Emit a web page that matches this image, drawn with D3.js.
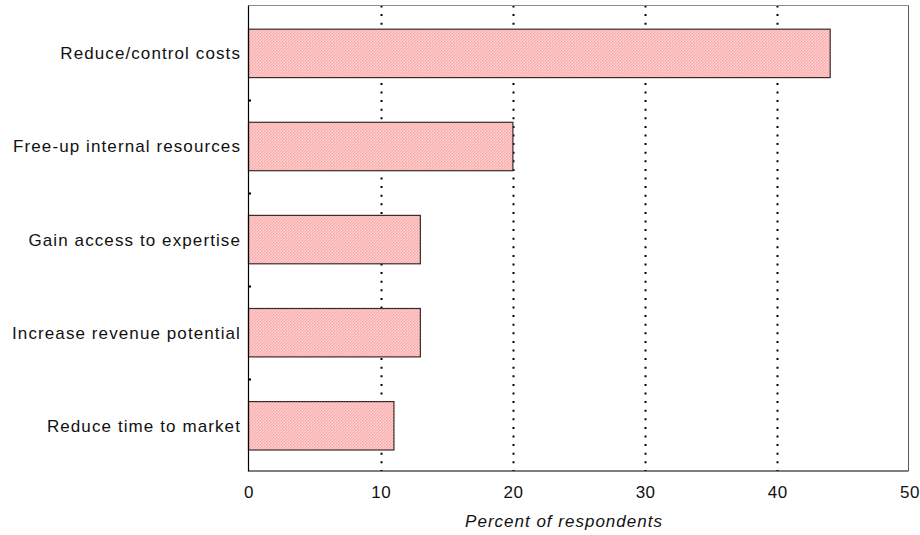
<!DOCTYPE html>
<html><head><meta charset="utf-8">
<script src="https://cdn.jsdelivr.net/npm/d3@7"></script>
<style>body{margin:0;background:#fff}svg{display:block}text{font-family:"Liberation Sans",Arial,sans-serif}</style>
</head><body>
<svg id="c" width="920" height="535"></svg>
<script>
const categories = ["Reduce/control costs","Free-up internal resources","Gain access to expertise","Increase revenue potential","Reduce time to market"];
const values = [44, 20, 13, 13, 11];
const xTicks = [0, 10, 20, 30, 40, 50];
const gridTicks = [10, 20, 30, 40];
const xTitle = "Percent of respondents";

const svg = d3.select("#c");
const L = 248.5, R = 908.5, T = 5.5, B = 471;
const x = d3.scaleLinear().domain([0, 50]).range([L, 909.5]);
const y = d3.scaleBand().domain(categories).range([T, B]).paddingInner(0.48).paddingOuter(0.24).align(0.53);

const defs = svg.append("defs");
const pat = defs.append("pattern").attr("id","hatch").attr("patternUnits","userSpaceOnUse").attr("width",3).attr("height",3);
pat.append("rect").attr("width",3).attr("height",3).attr("fill","#ffc4c4");
pat.append("rect").attr("x",0).attr("y",2).attr("width",1).attr("height",1).attr("fill","#f4a9a9");
pat.append("rect").attr("x",1).attr("y",1).attr("width",1).attr("height",1).attr("fill","#f7b0b0");
pat.append("rect").attr("x",2).attr("y",0).attr("width",1).attr("height",1).attr("fill","#f4a9a9");
pat.append("rect").attr("x",2).attr("y",2).attr("width",1).attr("height",1).attr("fill","#ffd6d6");

// gridlines
svg.append("g").selectAll("line").data(gridTicks).join("line")
  .attr("x1", d => Math.round(x(d)) + 0.5).attr("x2", d => Math.round(x(d)) + 0.5)
  .attr("y1", T).attr("y2", B)
  .attr("stroke", "#000").attr("stroke-width", 2).attr("stroke-dasharray", "2,6.6");

// frame top/right
svg.append("line").attr("x1", L).attr("x2", R).attr("y1", T).attr("y2", T).attr("stroke", "#8a8a8a").attr("stroke-width", 1);
svg.append("line").attr("x1", R).attr("x2", R).attr("y1", T).attr("y2", B).attr("stroke", "#5a5a5a").attr("stroke-width", 1);

// bars
svg.append("g").selectAll("rect").data(categories).join("rect")
  .attr("x", L).attr("y", d => y(d))
  .attr("width", (d, i) => x(values[i]) - L).attr("height", y.bandwidth())
  .attr("fill", "url(#hatch)").attr("stroke", "#3a2a2a").attr("stroke-width", 1.2);

// y-axis ticks between categories
const step = y.step();
svg.append("g").selectAll("line").data(categories.slice(0, -1)).join("line")
  .attr("x1", L).attr("x2", L + 2.5)
  .attr("y1", d => Math.round(y(d) + y.bandwidth() + step * 0.48 / 2) + 0.5)
  .attr("y2", d => Math.round(y(d) + y.bandwidth() + step * 0.48 / 2) + 0.5)
  .attr("stroke", "#000").attr("stroke-width", 2);

// axes lines
svg.append("line").attr("x1", L).attr("x2", L).attr("y1", T).attr("y2", B + 0.5).attr("stroke", "#000").attr("stroke-width", 1.2);
svg.append("line").attr("x1", L).attr("x2", R).attr("y1", B).attr("y2", B).attr("stroke", "#000").attr("stroke-width", 1.2);

// category labels
svg.append("g").selectAll("text").data(categories).join("text")
  .attr("x", 241).attr("y", d => y(d) + y.bandwidth() / 2 + 6)
  .attr("text-anchor", "end").attr("font-size", 17).attr("letter-spacing", "1.1px").attr("fill", "#111")
  .text(d => d);

// x tick labels
svg.append("g").selectAll("text").data(xTicks).join("text")
  .attr("x", d => x(d) + 0.5).attr("y", 497.5)
  .attr("text-anchor", "middle").attr("font-size", 17).attr("letter-spacing", "0.5px").attr("fill", "#111")
  .text(d => d);

// x title
svg.append("text").attr("x", 564).attr("y", 527)
  .attr("text-anchor", "middle").attr("font-size", 17).attr("font-style", "italic").attr("letter-spacing", "1px").attr("fill", "#111")
  .text(xTitle);
</script>
</body></html>
